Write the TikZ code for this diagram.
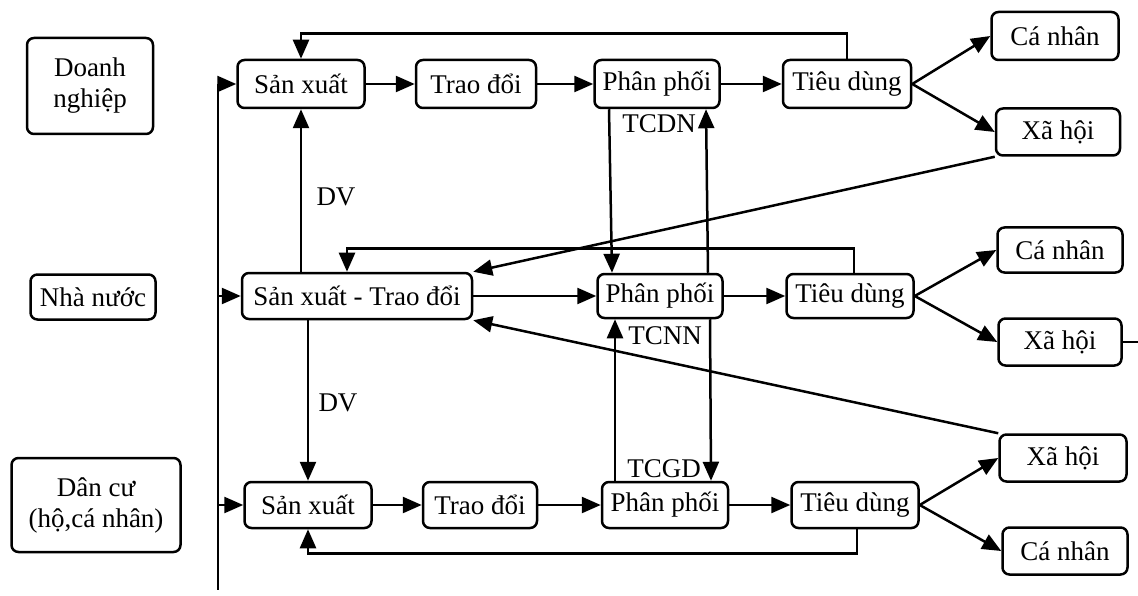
\documentclass[tikz,border=0pt]{standalone}
\usepackage{fontspec}
\setmainfont{Liberation Serif}
\usetikzlibrary{arrows.meta}
\begin{document}
\begin{tikzpicture}[x=1pt,y=-1pt,
  box/.style={draw, line width=2.5pt, rounded corners=7pt, inner sep=0pt,
    font=\fontsize{27}{31}\selectfont, align=center},
  arr/.style={line width=2.5pt, -{Triangle[length=19pt,width=16pt]}},
  ln/.style={line width=2.5pt},
  lbl/.style={font=\fontsize{27}{31}\selectfont, inner sep=0pt}]
\useasboundingbox (0,0) rectangle (1138,596);
% left column
\node[box, minimum width=126, minimum height=96] (dn) at (90,86) {Doanh\\nghiệp};
\node[box, minimum width=125, minimum height=45] (nn) at (93,297) {Nhà nước};
\node[box, minimum width=169, minimum height=94] (dc) at (96,505) {Dân cư\\(hộ,cá nhân)};
% row 1
\node[box, minimum width=127, minimum height=48] (sx1) at (301,84) {Sản xuất};
\node[box, minimum width=120, minimum height=48] (td1) at (476,84) {Trao đổi};
\node[box, minimum width=125, minimum height=48] (pp1) at (657,84) {Phân phối};
\node[box, minimum width=128, minimum height=48] (tdg1) at (847,84) {Tiêu dùng};
\node[box, minimum width=127, minimum height=48] (cn1) at (1055,36) {Cá nhân};
\node[box, minimum width=124, minimum height=47] (xh1) at (1058,132) {Xã hội};
% row 2
\node[box, minimum width=230, minimum height=46] (sxtd) at (357,296) {Sản xuất - Trao đổi};
\node[box, minimum width=125, minimum height=44] (pp2) at (660,296) {Phân phối};
\node[box, minimum width=127, minimum height=44] (tdg2) at (850,296) {Tiêu dùng};
\node[box, minimum width=125, minimum height=45] (cn2) at (1060,250) {Cá nhân};
\node[box, minimum width=123, minimum height=47] (xh2) at (1060,342) {Xã hội};
% row 3
\node[box, minimum width=127, minimum height=46] (sx3) at (308,505) {Sản xuất};
\node[box, minimum width=114, minimum height=46] (td3) at (480,505) {Trao đổi};
\node[box, minimum width=126, minimum height=46] (pp3) at (665,505) {Phân phối};
\node[box, minimum width=127, minimum height=46] (tdg3) at (855,505) {Tiêu dùng};
\node[box, minimum width=127, minimum height=47] (xh3) at (1063,458) {Xã hội};
\node[box, minimum width=125, minimum height=47] (cn3) at (1065,551) {Cá nhân};
% labels
\node[lbl] (dv1) at (336,197) {DV};
\node[lbl] (dv2) at (338,403) {DV};
\node[lbl] (tcdn) at (659,124) {TCDN};
\node[lbl] (tcnn) at (665,336) {TCNN};
\node[lbl] (tcgd) at (664,469) {TCGD};
% left bus
\coordinate (bus) at (218,0);
\coordinate (busend) at (218,590);
\draw[ln] (sx1.west -| bus) -- (busend);
\draw[arr] (sx1.west -| bus) -- (sx1.west);
\draw[arr] (sxtd.west -| bus) -- (sxtd.west);
\draw[arr] (sx3.west -| bus) -- (sx3.west);
% row 1 flow
\draw[arr] (sx1) -- (td1);
\draw[arr] (td1) -- (pp1);
\draw[arr] (pp1) -- (tdg1);
\draw[arr] (tdg1.east) -- (cn1.west);
\draw[arr] (tdg1.east) -- (xh1.west);
\draw[arr] (tdg1.north) -- ++(0,-25) -| (sx1.north);
% row 2 flow
\draw[arr] (sxtd) -- (pp2);
\draw[arr] (pp2) -- (tdg2);
\draw[arr] (tdg2.east) -- (cn2.west);
\draw[arr] (tdg2.east) -- (xh2.west);
\draw[arr] ([xshift=4pt]tdg2.north) -- ++(0,-24) -| ([xshift=-10pt]sxtd.north);
\draw[ln] (xh2.east) -- ++(16,0);
% row 3 flow
\draw[arr] (sx3) -- (td3);
\draw[arr] (td3) -- (pp3);
\draw[arr] (pp3) -- (tdg3);
\draw[arr] (tdg3.east) -- (xh3.west);
\draw[arr] (tdg3.east) -- (cn3.west);
\draw[arr] ([xshift=2pt]tdg3.south) -- ++(0,24) -| (sx3.south);
% DV
\draw[arr] (sxtd.north -| sx1) -- (sx1.south);
\draw[arr] (sxtd.south -| sx3) -- (sx3.north);
% TC verticals
\draw[arr] ([xshift=-48pt]pp1.south) -- ([xshift=-48pt]pp2.north);
\draw[arr] ([xshift=48pt]pp2.north) -- ([xshift=49pt]pp1.south);
\draw[arr] ([xshift=-50pt]pp3.north) -- ([xshift=-45pt]pp2.south);
\draw[arr] ([xshift=50pt]pp2.south) -- ([xshift=46pt]pp3.north);
% diagonals
\draw[arr] (xh1.south west) -- (sxtd.north east);
\draw[arr] (xh3.north west) -- (sxtd.south east);
\end{tikzpicture}
\end{document}
